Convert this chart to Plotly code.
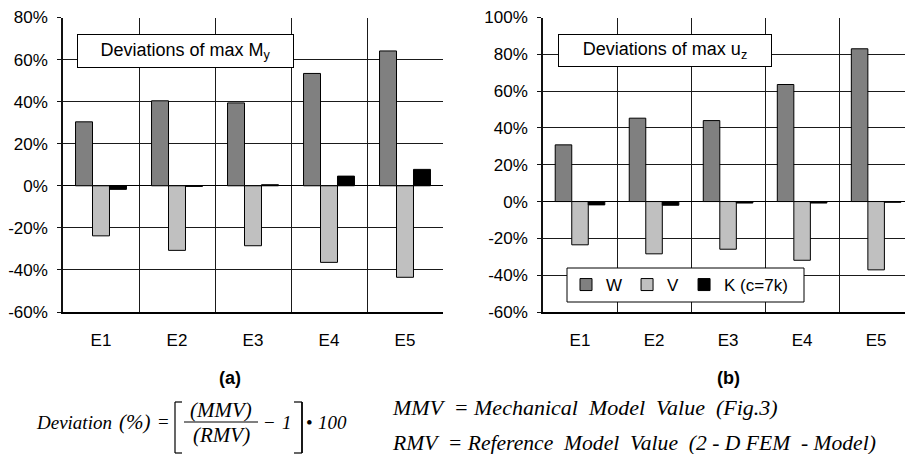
import plotly.graph_objects as go

W_PX, H_PX = 905, 454

categories = ["E1", "E2", "E3", "E4", "E5"]
my_W = [30.4, 40.4, 39.4, 53.4, 64.1]
my_V = [-23.8, -30.7, -28.5, -36.4, -43.5]
my_K = [-1.7, -0.3, 0.5, 4.6, 7.8]
uz_W = [30.8, 45.3, 44.0, 63.6, 83.0]
uz_V = [-23.5, -28.4, -25.9, -31.9, -37.1]
uz_K = [-1.8, -2.0, -0.8, -0.8, -0.4]
series_names = ["W", "V", "K (c=7k)"]
series_colors = ["#808080", "#c0c0c0", "#000000"]
left_ticks = [-60, -40, -20, 0, 20, 40, 60, 80]
left_ticktext = ["-60%", "-40%", "-20%", "0%", "20%", "40%", "60%", "80%"]
right_ticks = [-60, -40, -20, 0, 20, 40, 60, 80, 100]
right_ticktext = ["-60%", "-40%", "-20%", "0%", "20%", "40%", "60%", "80%", "100%"]


def px(x):
    return x / W_PX


def py(y):
    return 1 - y / H_PX


fig = go.Figure()
for vals, name, col in zip([my_W, my_V, my_K], series_names, series_colors):
    fig.add_trace(go.Bar(x=categories, y=vals, name=name, marker=dict(color=col, line=dict(color="black", width=1)),
                         xaxis="x", yaxis="y", showlegend=False))
for vals, name, col in zip([uz_W, uz_V, uz_K], series_names, series_colors):
    fig.add_trace(go.Bar(x=categories, y=vals, name=name, marker=dict(color=col, line=dict(color="black", width=1)),
                         xaxis="x2", yaxis="y2", showlegend=True))

tickfont = dict(family="Liberation Sans, Arial", size=17, color="black")
ydom = [py(312), py(17.5)]
common_x = dict(type="category", tickson="boundaries", showgrid=True, gridcolor="#1a1a1a", gridwidth=1,
                showline=True, linecolor="black", linewidth=2, ticks="", tickfont=tickfont,
                ticklabelstandoff=12, fixedrange=True, automargin=False)
common_y = dict(showgrid=True, gridcolor="#1a1a1a", gridwidth=1, showline=True, linecolor="#111", linewidth=1.5,
                ticks="outside", ticklen=4, tickcolor="#111", tickfont=tickfont,
                zeroline=True, zerolinecolor="black", zerolinewidth=1.2, ticklabelstandoff=6,
                automargin=False, fixedrange=True)

fig.update_layout(
    width=W_PX, height=H_PX, margin=dict(l=0, r=0, t=0, b=0, autoexpand=False),
    paper_bgcolor="white", plot_bgcolor="white",
    barmode="group", bargap=0.33, bargroupgap=0,
    xaxis=dict(domain=[px(63), px(443)], anchor="y", range=[-0.5, 4.5], **common_x),
    yaxis=dict(domain=ydom, anchor="x", range=[-60, 80], tickvals=left_ticks, ticktext=left_ticktext, **common_y),
    xaxis2=dict(domain=[px(543), 1.0], anchor="y2", range=[-0.5, 4.39], **common_x),
    yaxis2=dict(domain=ydom, anchor="x2", range=[-60, 100], tickvals=right_ticks, ticktext=right_ticktext,
                **common_y),
    legend=dict(orientation="h", x=px(566), y=py(285), xanchor="left", yanchor="middle",
                borderwidth=0, bgcolor="rgba(0,0,0,0)",
                font=dict(family="Liberation Sans, Arial", size=17, color="black")),
    showlegend=True,
)

ann = []
boxfont = dict(family="Liberation Sans, Arial", size=18, color="black")
ann.append(dict(text="Deviations of max M<sub>y</sub>", xref="paper", yref="paper",
                x=px((76 + 295) / 2), y=py(51), xanchor="center", yanchor="middle", showarrow=False,
                width=215, height=32, bordercolor="black", borderwidth=1, bgcolor="white", borderpad=0,
                font=boxfont))
ann.append(dict(text="Deviations of max u<sub>z</sub>", xref="paper", yref="paper",
                x=px((557 + 773) / 2), y=py(50.5), xanchor="center", yanchor="middle", showarrow=False,
                width=212, height=31, bordercolor="black", borderwidth=1, bgcolor="white", borderpad=0,
                font=boxfont))
labfont = dict(family="Liberation Sans, Arial", size=18, color="black", weight="bold")
ann.append(dict(text="(a)", xref="paper", yref="paper", x=px(230), y=py(378), xanchor="center",
                yanchor="middle", showarrow=False, font=labfont))
ann.append(dict(text="(b)", xref="paper", yref="paper", x=px(728), y=py(378), xanchor="center",
                yanchor="middle", showarrow=False, font=labfont))

serif = dict(family="Liberation Serif, Times New Roman", size=19, color="black", style="italic")
serif_up = dict(family="Liberation Serif, Times New Roman", size=19, color="black")


def txt(s, x, y, font=serif, xanchor="center"):
    ann.append(dict(text=s, xref="paper", yref="paper", x=px(x), y=py(y), xanchor=xanchor,
                    yanchor="middle", showarrow=False, font=font))


txt("Deviation", 74, 422)
txt("(%)", 134, 422, dict(serif, size=21))
txt("=", 163, 421, serif_up)
txt("(MMV)", 221, 410, dict(serif, size=21))
txt("(RMV)", 221, 435, dict(serif, size=21))
txt("\u2212", 269, 422, serif_up)
txt("1", 287, 422)
txt("\u2022", 309, 422, serif_up)
txt("100", 332, 422)
txt("MMV  = Mechanical  Model  Value  (Fig.3)", 390, 407, dict(serif, size=22), xanchor="left")
txt("RMV  = Reference  Model  Value  (2 - D FEM  - Model)", 390, 443, dict(serif, size=21.6), xanchor="left")

shapes = []


def line(x0, y0, x1, y1, w=1.2):
    shapes.append(dict(type="line", xref="paper", yref="paper", x0=px(x0), y0=py(y0), x1=px(x1), y1=py(y1),
                       line=dict(color="black", width=w)))


# legend frame
shapes.append(dict(type="rect", xref="paper", yref="paper", x0=px(567), x1=px(804), y0=py(302), y1=py(268),
                   line=dict(color="black", width=1), fillcolor="white", layer="above"))
line(184, 422, 258, 422, 1)
# left bracket
line(175, 402, 175, 453)
line(175, 402, 182, 402)
line(175, 453, 182, 453)
# right bracket
line(302, 402, 302, 453, 1.8)
line(294, 402, 302, 402)
line(294, 453, 302, 453)

fig.update_layout(annotations=ann, shapes=shapes)
fig.write_html("out.html", config={"displayModeBar": False},
               post_script="document.body.style.margin='0';document.body.style.overflow='hidden';")
